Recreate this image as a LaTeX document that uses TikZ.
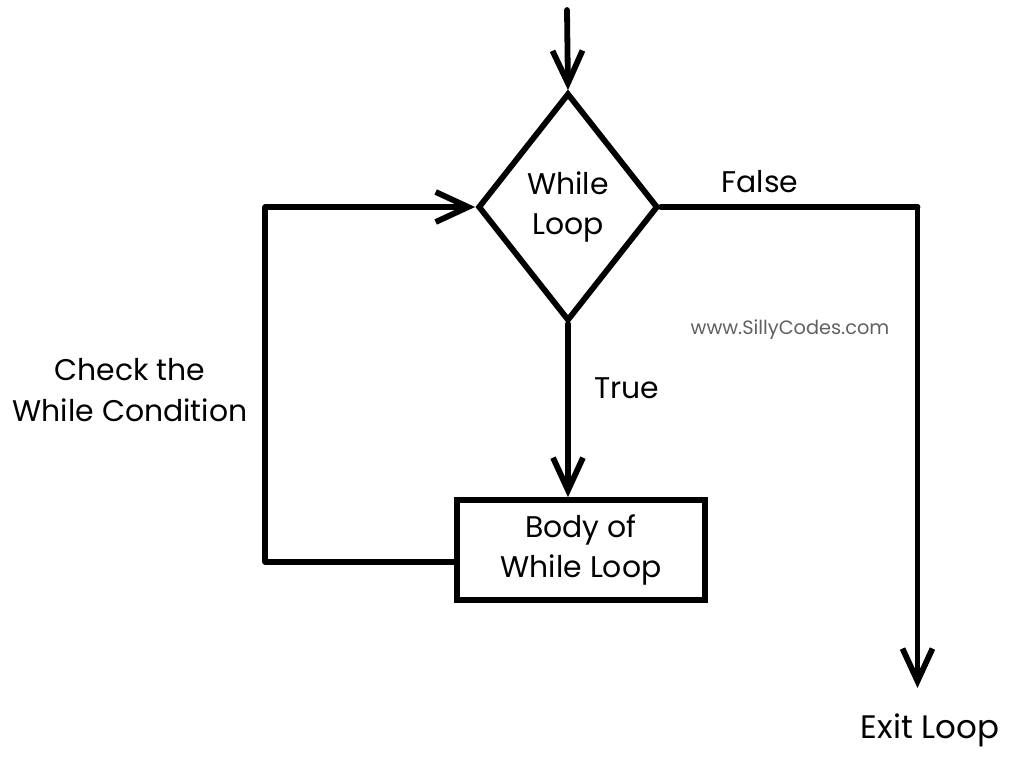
\documentclass[tikz,border=0pt]{standalone}
\usepackage{fontspec}
\setmainfont{Poppins}
\usetikzlibrary{arrows.meta,shapes.geometric,positioning}
\tikzset{
  flow/.style={
    line width=3.3pt,
    line cap=round,
    line join=round,
    -{Straight Barb[length=6.5mm,width=6mm,line width=3.3pt]}
  },
  edge/.style={line width=3.3pt, line cap=round, line join=round},
  cond/.style={
    draw=black,
    shape=diamond,
    line width=3.3pt,
    minimum width=3.6cm,
    minimum height=4.56cm,
    inner sep=0pt,
    font=\fontsize{17}{23}\selectfont,
    align=center
  },
  block/.style={
    draw=black,
    line width=3.3pt,
    minimum width=4.96cm,
    minimum height=2cm,
    inner sep=0pt,
    font=\fontsize{17}{23}\selectfont,
    align=center
  },
  lbl/.style={font=\fontsize{17}{23}\selectfont, inner sep=0pt, align=center},
  wmark/.style={font=\fontsize{11}{13}\selectfont, text=gray!75!black, inner sep=0pt}
}

\begin{document}
\begin{tikzpicture}
  \useasboundingbox (0,0) rectangle (20.48,15.26);
  % decision and body
  \node[cond] (loop) at (11.36,11.12) {While\\Loop};
  \node[block] (body) at (11.62,4.26) {Body of\\While Loop};
  \coordinate (start) at (11.34,15.06);
  \coordinate (rc) at (18.35,11.12);
  \coordinate (out) at (18.35,1.5);
  \coordinate (lc) at (5.3,4.02);
  % connectors
  \draw[flow] (start) -- (loop.north);
  \draw[flow] (loop.south) -- (loop.south |- body.north);
  \draw[edge] (loop.east) -- (rc);
  \draw[flow] (rc) -- (out);
  \draw[flow] ([yshift=-2.4mm]body.west) -- (lc) |- (loop.west);
  % labels
  \node[lbl] (false) at (15.2,11.62) {False};
  \node[lbl] (true) at (12.54,7.5) {True};
  \node[lbl, font=\fontsize{18.5}{23}\selectfont] (exit) at (18.6,0.66) {Exit Loop};
  \node[lbl] (check) at (2.6,7.46) {Check the\\While Condition};
  \node[wmark] (site) at (15.8,8.66) {www.SillyCodes.com};
\end{tikzpicture}
\end{document}
